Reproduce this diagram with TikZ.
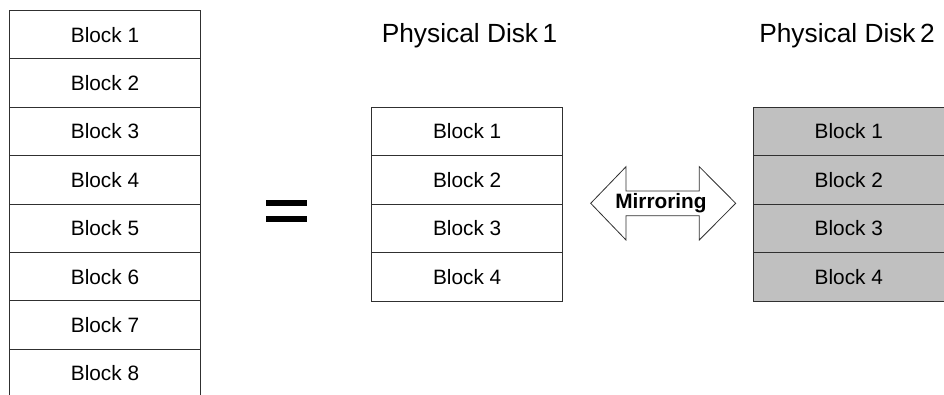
\documentclass[tikz,border=0pt]{standalone}
\usepackage{fontspec}
\setmainfont{Liberation Sans}
\definecolor{diskgray}{HTML}{C0C0C0}
\definecolor{edge}{HTML}{303030}
\begin{document}
\begin{tikzpicture}[x=1pt,y=-1pt,
  blk/.style={draw=edge, line width=1pt, minimum width=191pt, minimum height=48.4pt,
    inner sep=0pt, anchor=north, font=\fontsize{20.8}{24}\selectfont},
  mirrorblk/.style={blk, fill=diskgray},
  disktitle/.style={anchor=base, inner sep=0pt, font=\fontsize{26.3}{30}\selectfont},
  shape outline/.style={draw=edge, line width=0.8pt, fill=white, line join=miter},
  bigarrowtext/.style={inner sep=0pt, font=\bfseries\fontsize{20.8}{24}\selectfont}
]
\useasboundingbox (0,0) rectangle (944,394);
\clip (0,0) rectangle (944,394);

% logical volume: eight blocks
\foreach \i in {1,...,8}
  \node[blk] (L\i) at (105, {10+48.4*(\i-1)}) {Block \i};

% equals sign
\fill[black] (266,199.5) rectangle (307,206);
\fill[black] (266,215.5) rectangle (307,222);

% physical disk 1
\node[disktitle] (t1) at (469.5,42.7) {Physical Disk\,1};
\foreach \i in {1,...,4}
  \node[blk] (A\i) at (467.2, {106.7+48.5*(\i-1)}) {Block \i};

% physical disk 2 (mirror copy)
\node[disktitle] (t2) at (847,42.7) {Physical Disk\,2};
\foreach \i in {1,...,4}
  \node[mirrorblk] (B\i) at (848.8, {106.7+48.5*(\i-1)}) {Block \i};

% double-headed mirroring arrow
\draw[shape outline]
  (590.7,203.3) -- (626,166.7) -- (626,191) -- (699.3,191) -- (699.3,166.7)
  -- (735.7,203.3) -- (699.3,240) -- (699.3,215.7) -- (626,215.7) -- (626,240) -- cycle;
\node[bigarrowtext] (mirror) at (661,203.3) {Mirroring};
\end{tikzpicture}
\end{document}
